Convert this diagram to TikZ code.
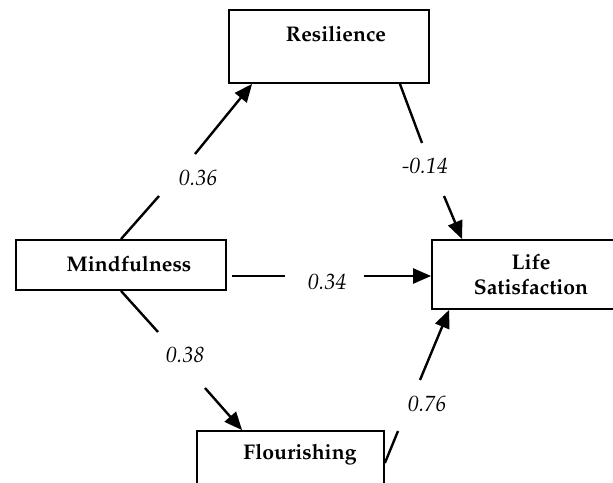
\documentclass[tikz,border=0pt]{standalone}
\usepackage[T1]{fontenc}
\usepackage{mathpazo}
\usepackage{tikz}
\usetikzlibrary{arrows.meta,positioning}

\newcommand{\pathfont}{\fontsize{10.6}{12.5}\selectfont}
\newcommand{\coeffont}{\fontsize{11}{12.5}\selectfont}

\begin{document}
\begin{tikzpicture}[x=0.5pt,y=-0.5pt,>={Triangle[length=9pt,width=7.5pt]}]
       \tikzstyle{var}=[draw, line width=0.9pt, inner sep=0pt, align=center, font=\pathfont\bfseries]
       \tikzstyle{coef}=[inner sep=1pt, font=\coeffont\itshape]
       \tikzstyle{link}=[line width=1.2pt]

       \useasboundingbox (0,0) rectangle (613,482);

       \node[var, minimum width=105pt, minimum height=25pt,
             label={[name=mind_t, font=\pathfont\bfseries, xshift=4pt, yshift=0.5pt]center:Mindfulness}]
             (mind) at (121,265) {};
       \node[var, minimum width=100pt, minimum height=36.5pt,
             label={[name=res_t, font=\pathfont\bfseries, xshift=3.5pt, yshift=6.25pt]center:Resilience}]
             (res) at (329,46.5) {};
       \node[var, minimum width=93.5pt, minimum height=36.5pt,
             label={[name=flo_t, font=\pathfont\bfseries, xshift=4.75pt, yshift=6.25pt]center:Flourishing}]
             (flo) at (290.5,467.5) {};
       \node[var, minimum width=99pt, minimum height=34.5pt] (life) at (531,274.5) {Life\\Satisfaction};

       % gaps left round the coefficients
       \coordinate (a_1) at (159,196);  \coordinate (b_1) at (195,154);
       \coordinate (a_2) at (422,143);  \coordinate (b_2) at (444,196);
       \coordinate (a_3) at (285,276);  \coordinate (b_3) at (364,276);
       \coordinate (a_4) at (158,332);  \coordinate (b_4) at (205,388);
       \coordinate (a_5) at (398,431);  \coordinate (b_5) at (420,380);

       \draw[link] (mind.north) -- (a_1);
       \draw[link,->] (b_1) -- ([xshift=12pt]res.south west);
       \draw[link] ([xshift=-15pt]res.south east) -- (a_2);
       \draw[link,->] (b_2) -- ([xshift=15.5pt]life.north west);
       \draw[link] ([xshift=2.5pt,yshift=-5.5pt]mind.east) -- (a_3);
       \draw[link,->] (b_3) -- (b_3 -| life.west);
       \draw[link] (mind.south) -- (a_4);
       \draw[link,->] (b_4) -- ([xshift=23pt]flo.north west);
       \draw[link] ([yshift=2.25pt]flo.east) -- (a_5);
       \draw[link,->] (b_5) -- ([xshift=9pt]life.south west);

       \node[coef] (c_1) at (198,178) {0.36};
       \node[coef] (c_2) at (425,166) {-0.14};
       \node[coef] (c_3) at (327,282) {0.34};
       \node[coef] (c_4) at (185,355) {0.38};
       \node[coef] (c_5) at (427,404) {0.76};
     \end{tikzpicture}
\end{document}
